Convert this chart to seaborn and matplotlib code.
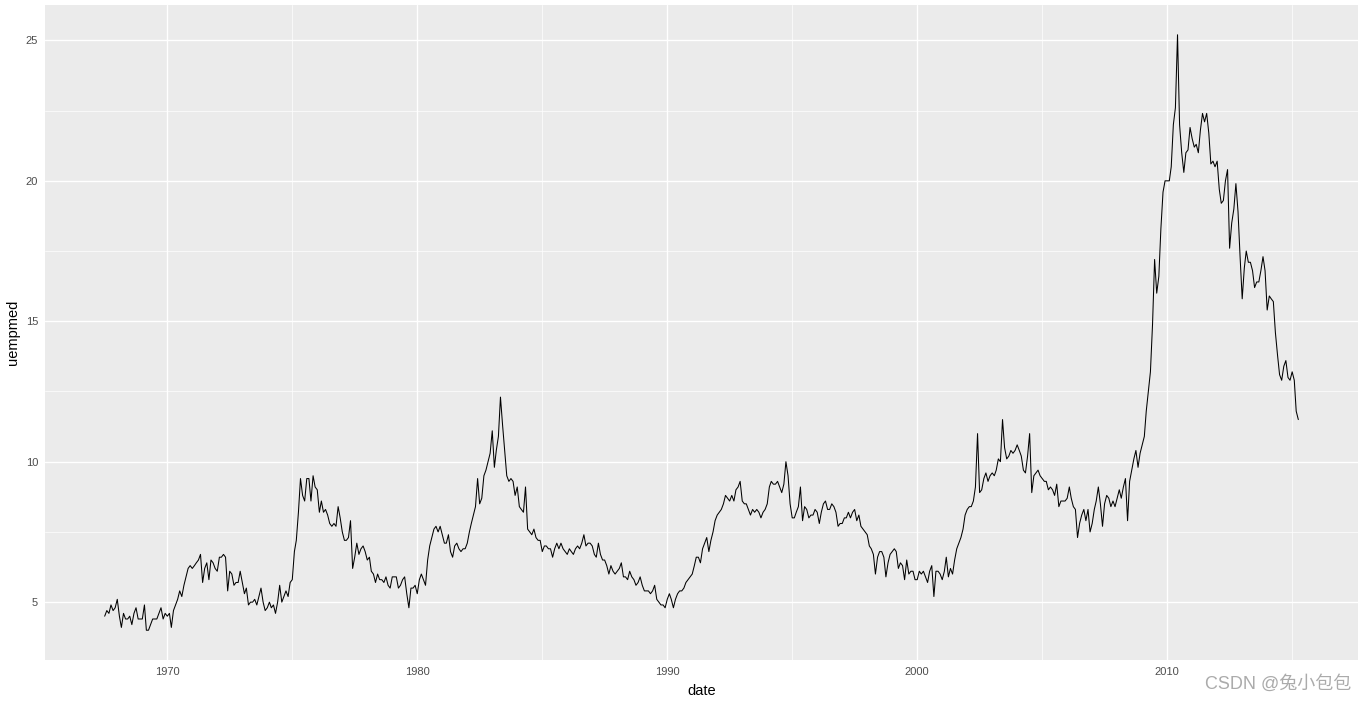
import matplotlib
matplotlib.use("Agg")
import matplotlib.pyplot as plt
import matplotlib.dates as mdates
import pandas as pd
import seaborn as sns

# median duration of unemployment (weeks), monthly
START = "1967-07-01"

uempmed_1960s = [
    4.5, 4.7, 4.6, 4.9, 4.7, 4.8,
    5.1, 4.5, 4.1, 4.6, 4.4, 4.4, 4.5, 4.2, 4.6, 4.8, 4.4, 4.4,
    4.4, 4.9, 4.0, 4.0, 4.2, 4.4, 4.4, 4.4, 4.6, 4.8, 4.4, 4.6,
]
uempmed_1970s = [
    4.5, 4.6, 4.1, 4.7, 4.9, 5.1, 5.4, 5.2, 5.6, 5.9, 6.2, 6.3,
    6.2, 6.3, 6.4, 6.5, 6.7, 5.7, 6.2, 6.4, 5.8, 6.5, 6.4, 6.2,
    6.1, 6.6, 6.6, 6.7, 6.6, 5.4, 6.1, 6.0, 5.6, 5.7, 5.7, 6.1,
    5.7, 5.3, 5.5, 4.9, 5.0, 5.0, 5.1, 4.9, 5.2, 5.5, 5.0, 4.7,
    4.8, 5.0, 4.8, 4.9, 4.6, 5.0, 5.6, 5.0, 5.2, 5.4, 5.2, 5.7,
    5.8, 6.8, 7.2, 8.2, 9.4, 8.8, 8.6, 9.4, 9.4, 8.6, 9.5, 9.1,
    9.0, 8.2, 8.6, 8.2, 8.3, 8.1, 7.8, 7.7, 7.8, 7.7, 8.4, 8.0,
    7.5, 7.2, 7.2, 7.3, 7.9, 6.2, 6.6, 7.1, 6.7, 6.9, 7.0, 6.8,
    6.5, 6.6, 6.1, 6.0, 5.7, 6.0, 5.8, 5.8, 5.7, 5.9, 5.6, 5.5,
    5.9, 5.9, 5.9, 5.5, 5.6, 5.8, 5.9, 5.3, 4.8, 5.5, 5.5, 5.6,
]
uempmed_1980s = [
    5.3, 5.8, 6.0, 5.8, 5.6, 6.5, 7.0, 7.3, 7.6, 7.7, 7.5, 7.7,
    7.4, 7.1, 7.1, 7.4, 6.8, 6.6, 7.0, 7.1, 6.9, 6.8, 6.9, 6.9,
    7.1, 7.5, 7.8, 8.1, 8.4, 9.4, 8.5, 8.7, 9.5, 9.7, 10.0, 10.3,
    11.1, 9.8, 10.4, 10.9, 12.3, 11.3, 10.4, 9.5, 9.3, 9.4, 9.3, 8.8,
    9.1, 8.4, 8.3, 8.2, 9.1, 7.6, 7.5, 7.4, 7.6, 7.3, 7.2, 7.2,
    6.8, 7.0, 7.0, 6.9, 6.9, 6.6, 6.9, 7.1, 6.9, 7.1, 6.9, 6.8,
    6.7, 6.9, 6.8, 6.7, 6.9, 7.0, 6.9, 7.1, 7.4, 7.0, 7.1, 7.1,
    7.0, 6.7, 6.6, 7.1, 6.7, 6.5, 6.5, 6.3, 6.0, 6.3, 6.1, 6.0,
    6.1, 6.2, 6.4, 5.9, 5.9, 5.8, 6.1, 5.9, 5.8, 5.6, 5.7, 5.9,
    5.6, 5.4, 5.4, 5.4, 5.3, 5.4, 5.6, 5.1, 5.0, 4.9, 4.9, 4.8,
]
uempmed_1990s = [
    5.1, 5.3, 5.1, 4.8, 5.1, 5.3, 5.4, 5.4, 5.5, 5.7, 5.8, 5.9,
    6.0, 6.3, 6.6, 6.6, 6.4, 6.9, 7.1, 7.3, 6.8, 7.2, 7.5, 7.9,
    8.1, 8.2, 8.3, 8.5, 8.8, 8.7, 8.6, 8.8, 8.6, 9.0, 9.1, 9.3,
    8.6, 8.5, 8.5, 8.3, 8.1, 8.3, 8.2, 8.3, 8.2, 8.0, 8.2, 8.3,
    8.5, 9.1, 9.3, 9.2, 9.2, 9.3, 9.1, 8.9, 9.2, 10.0, 9.5, 8.5,
    8.0, 8.0, 8.2, 8.4, 9.1, 7.9, 8.4, 8.3, 8.0, 8.1, 8.1, 8.3,
    8.2, 7.8, 8.2, 8.5, 8.6, 8.3, 8.3, 8.5, 8.4, 8.2, 7.7, 7.8,
    7.8, 8.0, 8.0, 8.2, 8.0, 8.2, 8.3, 7.9, 8.1, 7.7, 7.6, 7.5,
    7.4, 7.0, 6.9, 6.7, 6.0, 6.6, 6.8, 6.8, 6.6, 5.9, 6.4, 6.7,
    6.8, 6.9, 6.8, 6.2, 6.4, 6.3, 5.8, 6.5, 6.0, 6.1, 6.1, 5.8,
]
uempmed_2000s = [
    5.8, 6.1, 6.0, 6.1, 5.9, 5.7, 6.1, 6.3, 5.2, 6.1, 6.1, 6.0,
    5.8, 6.1, 6.6, 5.9, 6.2, 6.0, 6.5, 6.9, 7.1, 7.3, 7.6, 8.1,
    8.3, 8.4, 8.4, 8.6, 9.1, 11.0, 8.9, 9.0, 9.4, 9.6, 9.3, 9.5,
    9.6, 9.5, 9.7, 10.1, 10.0, 11.5, 10.5, 10.1, 10.2, 10.4, 10.3, 10.4,
    10.6, 10.4, 10.2, 9.7, 9.6, 10.2, 11.0, 8.9, 9.5, 9.6, 9.7, 9.5,
    9.4, 9.3, 9.3, 9.0, 9.1, 9.0, 8.8, 9.2, 8.4, 8.6, 8.6, 8.6,
    8.7, 9.1, 8.7, 8.4, 8.3, 7.3, 7.8, 8.1, 8.3, 7.9, 8.3, 7.5,
    7.8, 8.3, 8.6, 9.1, 8.5, 7.7, 8.5, 8.8, 8.7, 8.4, 8.6, 8.4,
    8.7, 9.0, 8.7, 9.1, 9.4, 7.9, 9.3, 9.7, 10.1, 10.4, 9.8, 10.3,
    10.6, 10.9, 11.8, 12.5, 13.2, 14.9, 17.2, 16.0, 16.6, 18.3, 19.6, 20.0,
]
uempmed_2010s = [
    20.0, 20.0, 20.5, 22.0, 22.6, 25.2, 22.0, 21.0, 20.3, 21.0, 21.1, 21.9,
    21.5, 21.2, 21.3, 21.0, 21.8, 22.4, 22.1, 22.4, 21.7, 20.6, 20.7, 20.5,
    20.7, 19.7, 19.2, 19.3, 20.0, 20.4, 17.6, 18.5, 19.0, 19.9, 18.9, 17.3,
    15.8, 16.9, 17.5, 17.1, 17.1, 16.8, 16.2, 16.4, 16.4, 16.8, 17.3, 16.8,
    15.4, 15.9, 15.8, 15.7, 14.6, 13.8, 13.1, 12.9, 13.4, 13.6, 13.0, 12.9,
    13.2, 12.9, 11.8, 11.5,
]

Y_TICKS = [5, 10, 15, 20, 25]
X_TICK_YEARS = [1970, 1980, 1990, 2000, 2010]

uempmed = (uempmed_1960s + uempmed_1970s + uempmed_1980s
           + uempmed_1990s + uempmed_2000s + uempmed_2010s)
df = pd.DataFrame({
    "date": pd.date_range(START, periods=len(uempmed), freq="MS"),
    "uempmed": uempmed,
})

sns.set_theme(style="darkgrid", rc={
    "axes.facecolor": "#EBEBEB",
    "grid.color": "white",
    "axes.edgecolor": "none",
})
plt.rcParams["font.family"] = ["Liberation Sans", "Noto Sans CJK SC", "DejaVu Sans"]

fig = plt.figure(figsize=(13.66, 7.05), dpi=100)
ax = fig.add_axes([45 / 1366, 45 / 705, 1313 / 1366, 655 / 705])

sns.lineplot(data=df, x="date", y="uempmed", color="black", linewidth=0.75, ax=ax)

ax.set_xticks([pd.Timestamp(f"{y}-01-01") for y in X_TICK_YEARS])
ax.xaxis.set_major_formatter(mdates.DateFormatter("%Y"))
ax.set_xticks([pd.Timestamp(f"{y + 5}-01-01") for y in [1960] + X_TICK_YEARS], minor=True)
ax.set_yticks(Y_TICKS)
ax.set_yticks([y + 2.5 for y in Y_TICKS], minor=True)

# ggplot-style 5% expansion (after the ticks, so they don't widen the view)
d0, d1 = df["date"].min(), df["date"].max()
pad = (d1 - d0) * 0.05
ax.set_xlim(d0 - pad, d1 + pad)
v0, v1 = df["uempmed"].min(), df["uempmed"].max()
ax.set_ylim(v0 - (v1 - v0) * 0.05, v1 + (v1 - v0) * 0.05)

ax.grid(which="major", color="white", linewidth=1.0)
ax.grid(which="minor", color="white", linewidth=0.5)
ax.tick_params(which="major", length=3, width=0.8, color="#333333",
               labelsize=8, labelcolor="#4D4D4D", pad=2)
ax.tick_params(which="minor", length=0)

ax.set_xlabel("date", fontsize=10.5, color="black", labelpad=5)
ax.set_ylabel("uempmed", fontsize=10.5, color="black", labelpad=4)

fig.text(0.989, 0.017, "CSDN @兔小包包", ha="right", va="bottom", fontsize=13,
         color="#ABABAB")

fig.savefig("out.png", dpi=100)
